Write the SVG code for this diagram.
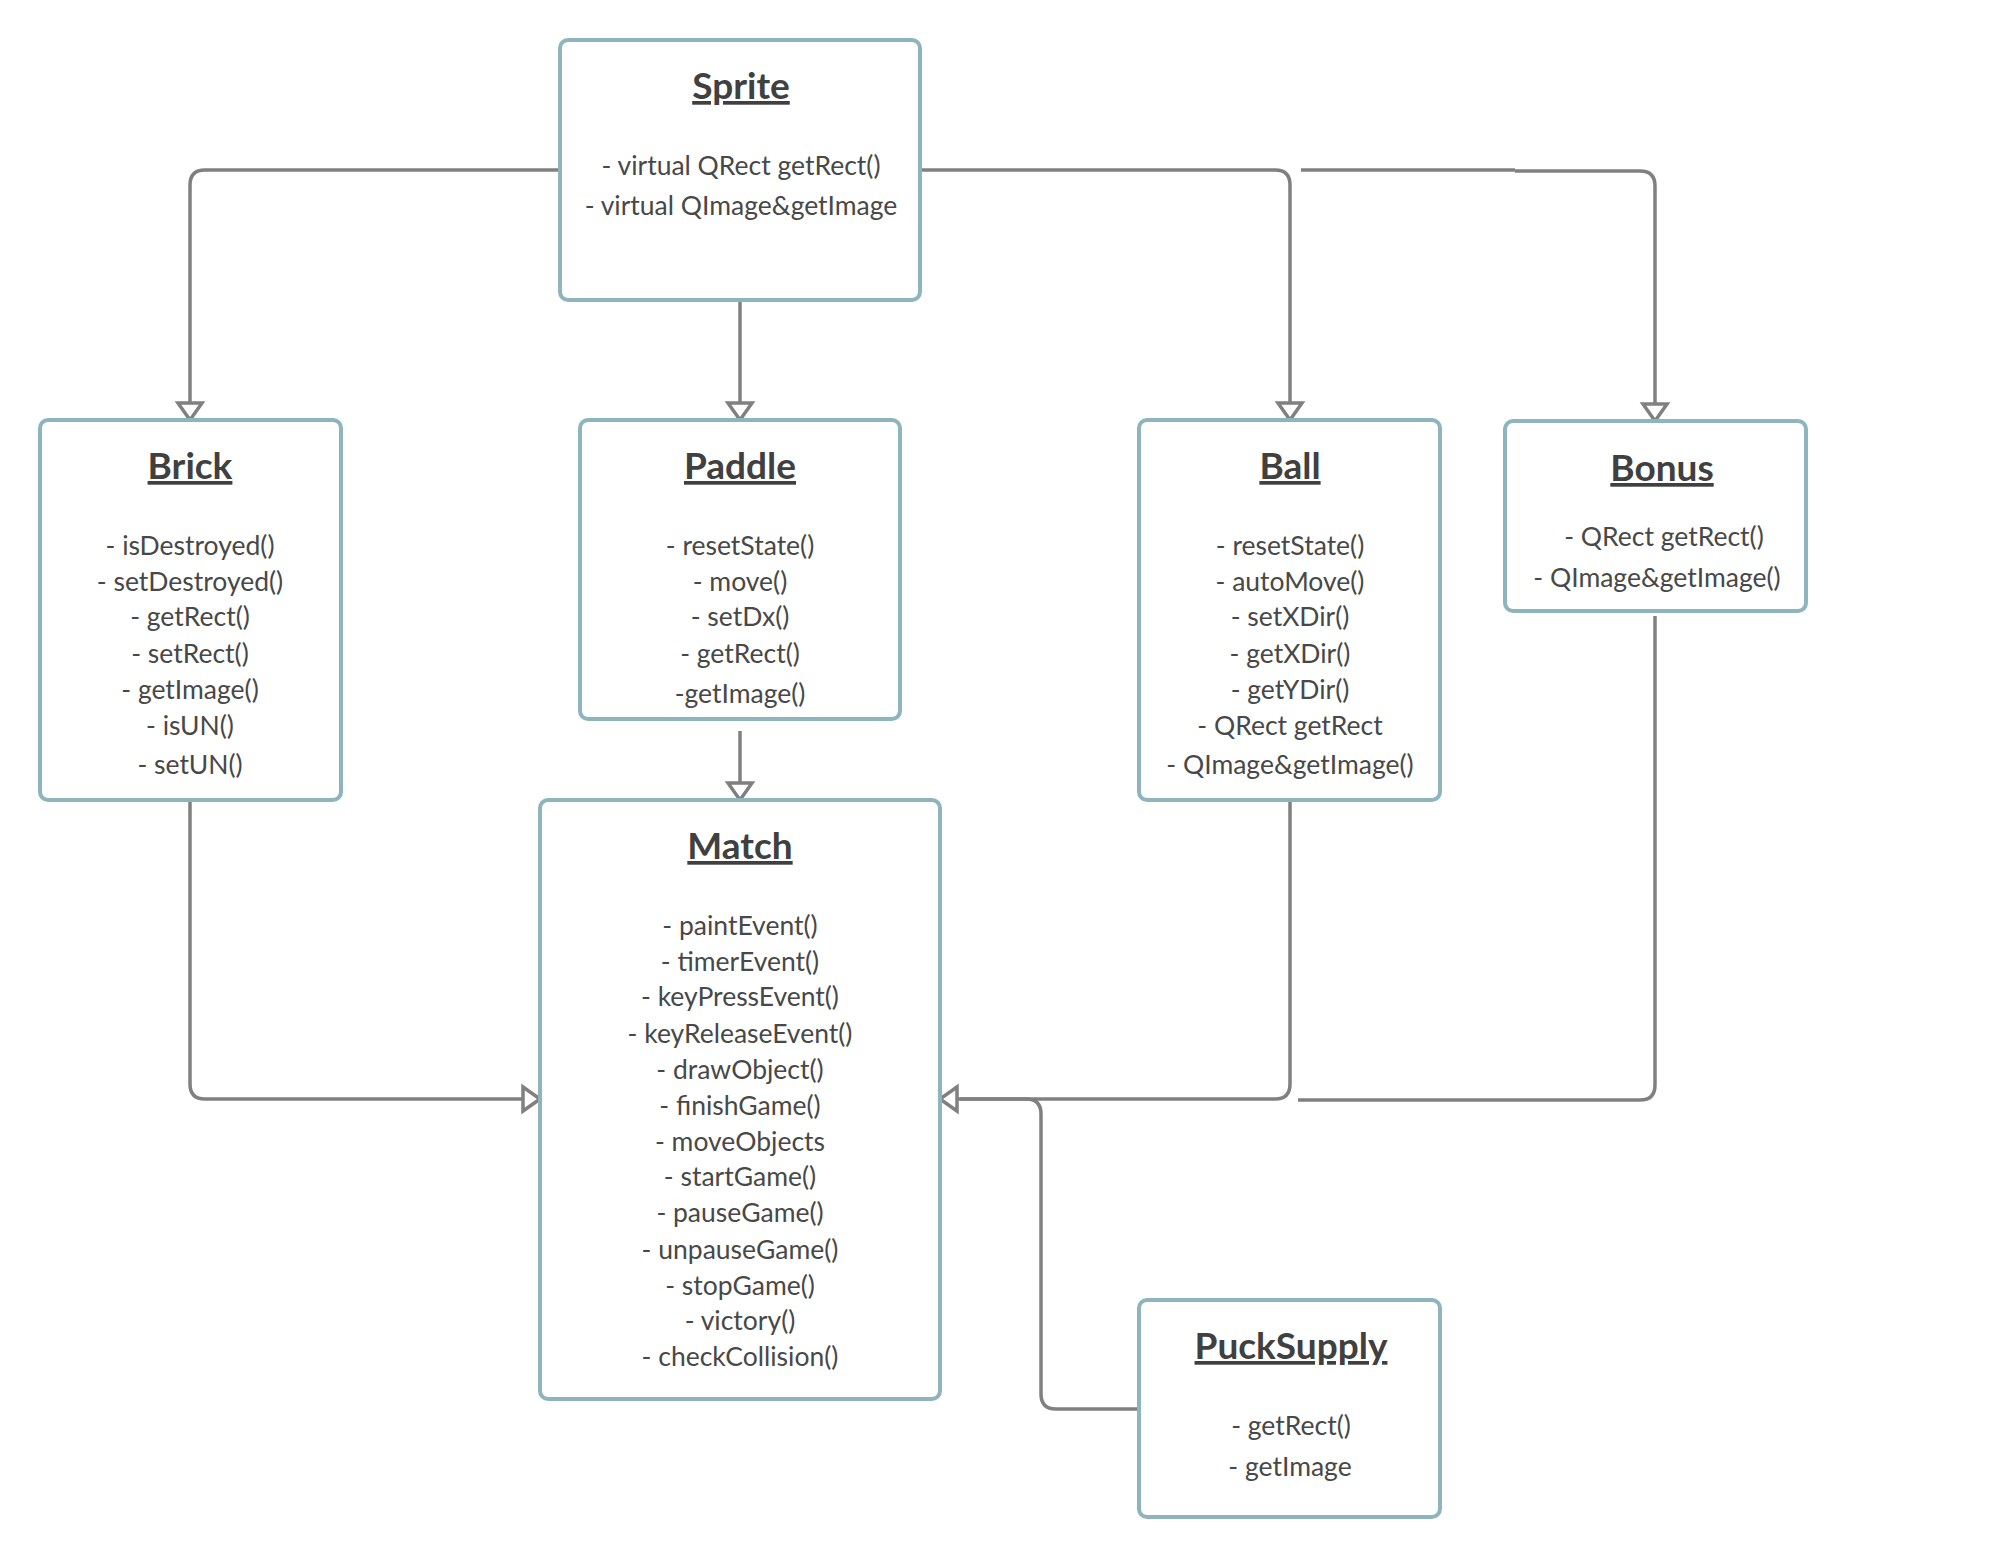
<svg xmlns="http://www.w3.org/2000/svg" width="2000" height="1560" viewBox="0 0 2000 1560">
  <style>
    .box { fill: #ffffff; stroke: #8eb5be; stroke-width: 4; }
    .title { font-family: Lato, "Liberation Sans", sans-serif; font-weight: bold; font-size: 37px; fill: #404040; text-anchor: middle; text-decoration: underline; }
    .m { font-family: Lato, "Liberation Sans", sans-serif; font-size: 26.5px; fill: #484848; text-anchor: middle; }
    .wire { fill: none; stroke: #808080; stroke-width: 3.5; }
  </style>
  <defs>
    <marker id="hollow" markerUnits="userSpaceOnUse" viewBox="-2 -2 22 28" markerWidth="22" markerHeight="28" refX="17" refY="12" orient="auto" overflow="visible">
      <path d="M0,0 L17,12 L0,24 Z" fill="#ffffff" stroke="#808080" stroke-width="3.5" stroke-linejoin="miter"/>
    </marker>
  </defs>
  <rect width="2000" height="1560" fill="#ffffff"/>

  <g id="connectors">
    <path class="wire" d="M560,170 H205 Q190,170 190,185 V420" marker-end="url(#hollow)"/>
    <path class="wire" d="M740,300 V420" marker-end="url(#hollow)"/>
    <path class="wire" d="M920,170 H1275 Q1290,170 1290,185 V420" marker-end="url(#hollow)"/>
    <path class="wire" d="M1301,170 H1515 M1515,171 H1640 Q1655,171 1655,186 V421" marker-end="url(#hollow)"/>
    <path class="wire" d="M740,731 V800" marker-end="url(#hollow)"/>
    <path class="wire" d="M190,800 V1084 Q190,1099 205,1099 H540" marker-end="url(#hollow)"/>
    <path class="wire" d="M1655,616 V1085 Q1655,1100 1640,1100 H1298"/>
    <path class="wire" d="M1139,1409 H1056 Q1041,1409 1041,1394 V1114 Q1041,1099 1026,1099 H960"/>
    <path class="wire" d="M1290,800 V1084 Q1290,1099 1275,1099 H940" marker-end="url(#hollow)"/>
  </g>

  <g id="sprite">
    <rect class="box" x="560" y="40" width="360" height="260" rx="8"/>
    <text class="title" x="741" y="99">Sprite</text>
    <text class="m" x="741" y="175">- virtual QRect getRect()</text>
    <text class="m" x="741" y="215">- virtual QImage&amp;getImage</text>
  </g>

  <g id="brick">
    <rect class="box" x="40" y="420" width="301" height="380" rx="8"/>
    <text class="title" x="190" y="479">Brick</text>
    <text class="m" x="190" y="555">- isDestroyed()</text>
    <text class="m" x="190" y="591">- setDestroyed()</text>
    <text class="m" x="190" y="626">- getRect()</text>
    <text class="m" x="190" y="663">- setRect()</text>
    <text class="m" x="190" y="699">- getImage()</text>
    <text class="m" x="190" y="735">- isUN()</text>
    <text class="m" x="190" y="774">- setUN()</text>
  </g>

  <g id="paddle">
    <rect class="box" x="580" y="420" width="320" height="299" rx="8"/>
    <text class="title" x="740" y="479">Paddle</text>
    <text class="m" x="740" y="555">- resetState()</text>
    <text class="m" x="740" y="591">- move()</text>
    <text class="m" x="740" y="626">- setDx()</text>
    <text class="m" x="740" y="663">- getRect()</text>
    <text class="m" x="740" y="703">-getImage()</text>
  </g>

  <g id="ball">
    <rect class="box" x="1139" y="420" width="301" height="380" rx="8"/>
    <text class="title" x="1290" y="479">Ball</text>
    <text class="m" x="1290" y="555">- resetState()</text>
    <text class="m" x="1290" y="591">- autoMove()</text>
    <text class="m" x="1290" y="626">- setXDir()</text>
    <text class="m" x="1290" y="663">- getXDir()</text>
    <text class="m" x="1290" y="699">- getYDir()</text>
    <text class="m" x="1290" y="735">- QRect getRect</text>
    <text class="m" x="1290" y="774">- QImage&amp;getImage()</text>
  </g>

  <g id="bonus">
    <rect class="box" x="1505" y="421" width="301" height="190" rx="8"/>
    <text class="title" x="1662" y="481">Bonus</text>
    <text class="m" x="1664" y="546">- QRect getRect()</text>
    <text class="m" x="1657" y="587">- QImage&amp;getImage()</text>
  </g>

  <g id="match">
    <rect class="box" x="540" y="800" width="400" height="599" rx="8"/>
    <text class="title" x="740" y="859">Match</text>
    <text class="m" x="740" y="935">- paintEvent()</text>
    <text class="m" x="740" y="971">- timerEvent()</text>
    <text class="m" x="740" y="1006">- keyPressEvent()</text>
    <text class="m" x="740" y="1043">- keyReleaseEvent()</text>
    <text class="m" x="740" y="1079">- drawObject()</text>
    <text class="m" x="740" y="1115">- finishGame()</text>
    <text class="m" x="740" y="1151">- moveObjects</text>
    <text class="m" x="740" y="1186">- startGame()</text>
    <text class="m" x="740" y="1222">- pauseGame()</text>
    <text class="m" x="740" y="1259">- unpauseGame()</text>
    <text class="m" x="740" y="1295">- stopGame()</text>
    <text class="m" x="740" y="1330">- victory()</text>
    <text class="m" x="740" y="1366">- checkCollision()</text>
  </g>

  <g id="pucksupply">
    <rect class="box" x="1139" y="1300" width="301" height="217" rx="8"/>
    <text class="title" x="1291" y="1359">PuckSupply</text>
    <text class="m" x="1291" y="1435">- getRect()</text>
    <text class="m" x="1290" y="1476">- getImage</text>
  </g>
</svg>
